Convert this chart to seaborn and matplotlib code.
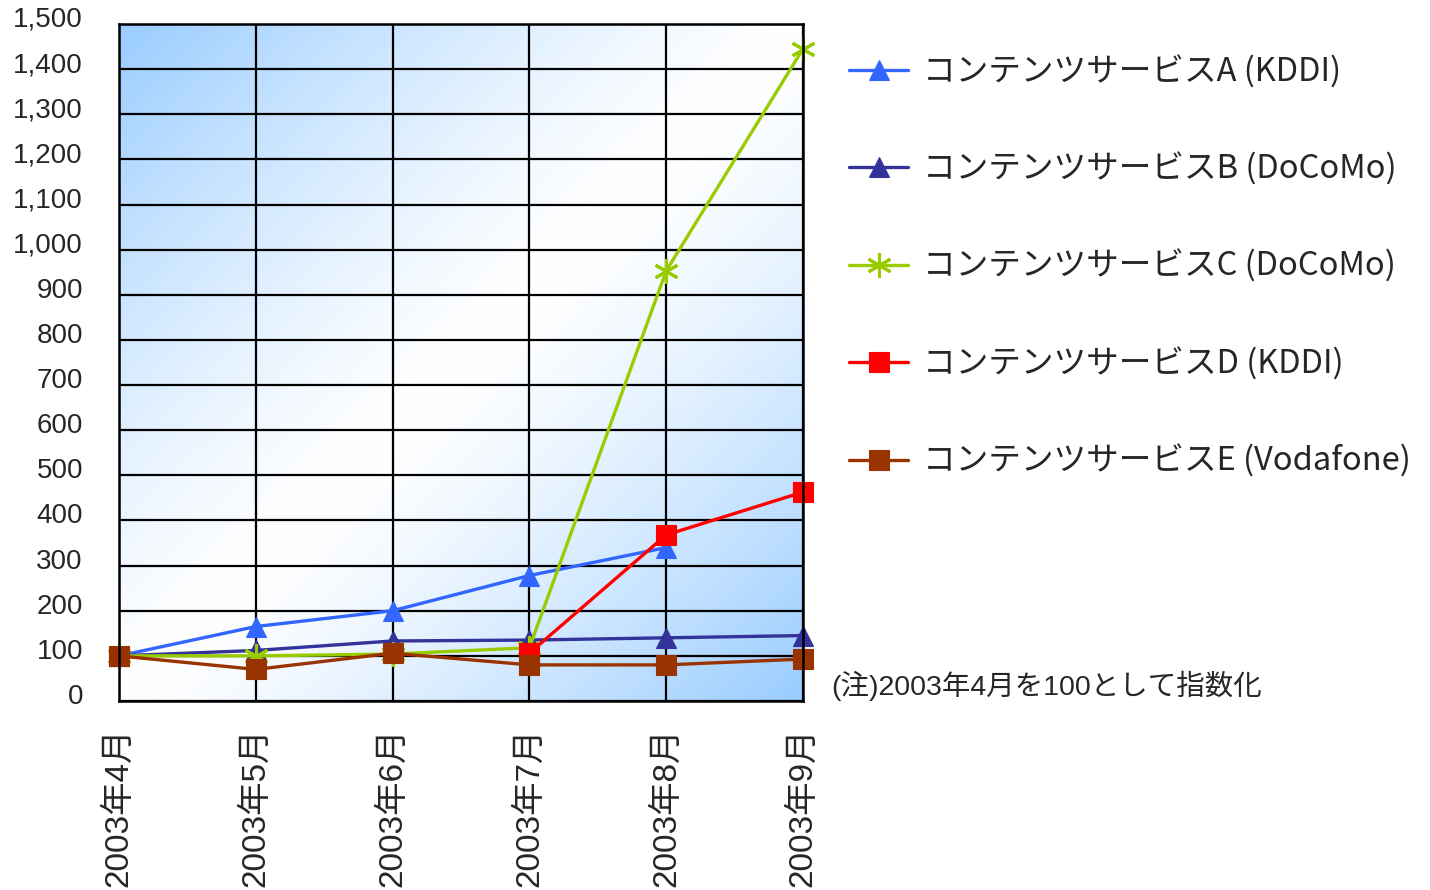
import matplotlib
matplotlib.use("Agg")
import matplotlib.pyplot as plt
import matplotlib.transforms as mtransforms
from matplotlib.ticker import MultipleLocator, StrMethodFormatter
import numpy as np
import pandas as pd
import seaborn as sns

months = ["2003年4月", "2003年5月", "2003年6月", "2003年7月", "2003年8月", "2003年9月"]
series_names = [
    "コンテンツサービスA (KDDI)",
    "コンテンツサービスB (DoCoMo)",
    "コンテンツサービスC (DoCoMo)",
    "コンテンツサービスD (KDDI)",
    "コンテンツサービスE (Vodafone)",
]
service_a = [100, 165, 200, 278, 340, np.nan]
service_b = [100, 112, 133, 135, 140, 145]
service_c = [100, 100, 104, 118, 953, 1445]
service_d = [np.nan, np.nan, np.nan, 106, 368, 463]
service_e = [100, 70, 106, 80, 80, 93]
note = "(注)2003年4月を100として指数化"

colors = ["#3366FF", "#333399", "#99CC00", "#FF0000", "#993300"]
markers = ["^", "^", (6, 2, 0), "s", "s"]

sns.set_style("white")
plt.rcParams["font.family"] = ["Liberation Sans", "Noto Sans CJK JP"]

df = pd.DataFrame({"month": months})
for name, vals in zip(series_names, [service_a, service_b, service_c, service_d, service_e]):
    df[name] = vals
long_df = df.melt(id_vars="month", var_name="service", value_name="index").dropna()

fig = plt.figure(figsize=(14.3, 8.9), dpi=100)
ax = fig.add_axes([119 / 1430, 1 - 701 / 890, (803 - 119) / 1430, (701 - 24) / 890])

# diagonal blue-white-blue gradient background
nx, ny = 300, 300
gx, gy = np.meshgrid(np.linspace(0, 1, nx), np.linspace(0, 1, ny))
t = np.abs(gx + gy - 1) ** 1.3
blue = np.array([0.6, 0.8, 1.0])
grad = (1 - t[..., None]) * np.ones(3) + t[..., None] * blue
ax.imshow(grad, extent=[0, 5, 0, 1500], aspect="auto", origin="upper", zorder=0)

for name, color, mk in zip(series_names, colors, markers):
    sub = long_df[long_df["service"] == name]
    is_star = name == series_names[2]
    sns.lineplot(
        data=sub, x="month", y="index", ax=ax, color=color, marker=mk,
        markersize=18 if is_star else 14, markeredgewidth=2.2 if is_star else 0.8,
        markeredgecolor=color, linewidth=2.4, label=name, clip_on=False, sort=False,
    )

ax.set_xlim(0, 5)
ax.set_ylim(0, 1500)
ax.set_xticks(range(len(months)))
ax.set_xticklabels(months, rotation=90, fontsize=24)
ax.yaxis.set_major_locator(MultipleLocator(100))
ax.yaxis.set_major_formatter(StrMethodFormatter("{x:,.0f}"))
ax.tick_params(axis="y", length=0, pad=26, labelsize=20)
ax.tick_params(axis="x", length=0, pad=19)
for lab in ax.get_yticklabels():
    lab.set_transform(lab.get_transform() + mtransforms.ScaledTranslation(0, 7 / 100, fig.dpi_scale_trans))
ax.set_xlabel("")
ax.set_ylabel("")
ax.set_axisbelow(True)
ax.grid(True, color="black", linewidth=1.6)
for sp in ax.spines.values():
    sp.set_color("black")
    sp.set_linewidth(1.8)

handles, labels = ax.get_legend_handles_labels()
ax.legend(
    handles, labels, loc="upper left", bbox_to_anchor=(0.594, 0.938),
    bbox_transform=fig.transFigure, frameon=False, borderpad=0, borderaxespad=0,
    prop={"family": ["Noto Sans CJK JP"], "size": 23.5},
    labelspacing=1.97, handlelength=1.8, handletextpad=0.45,
)

fig.text(0.581, 1 - 686 / 890, note, fontsize=20.5, va="center", ha="left")

fig.savefig("out.png", dpi=100)
